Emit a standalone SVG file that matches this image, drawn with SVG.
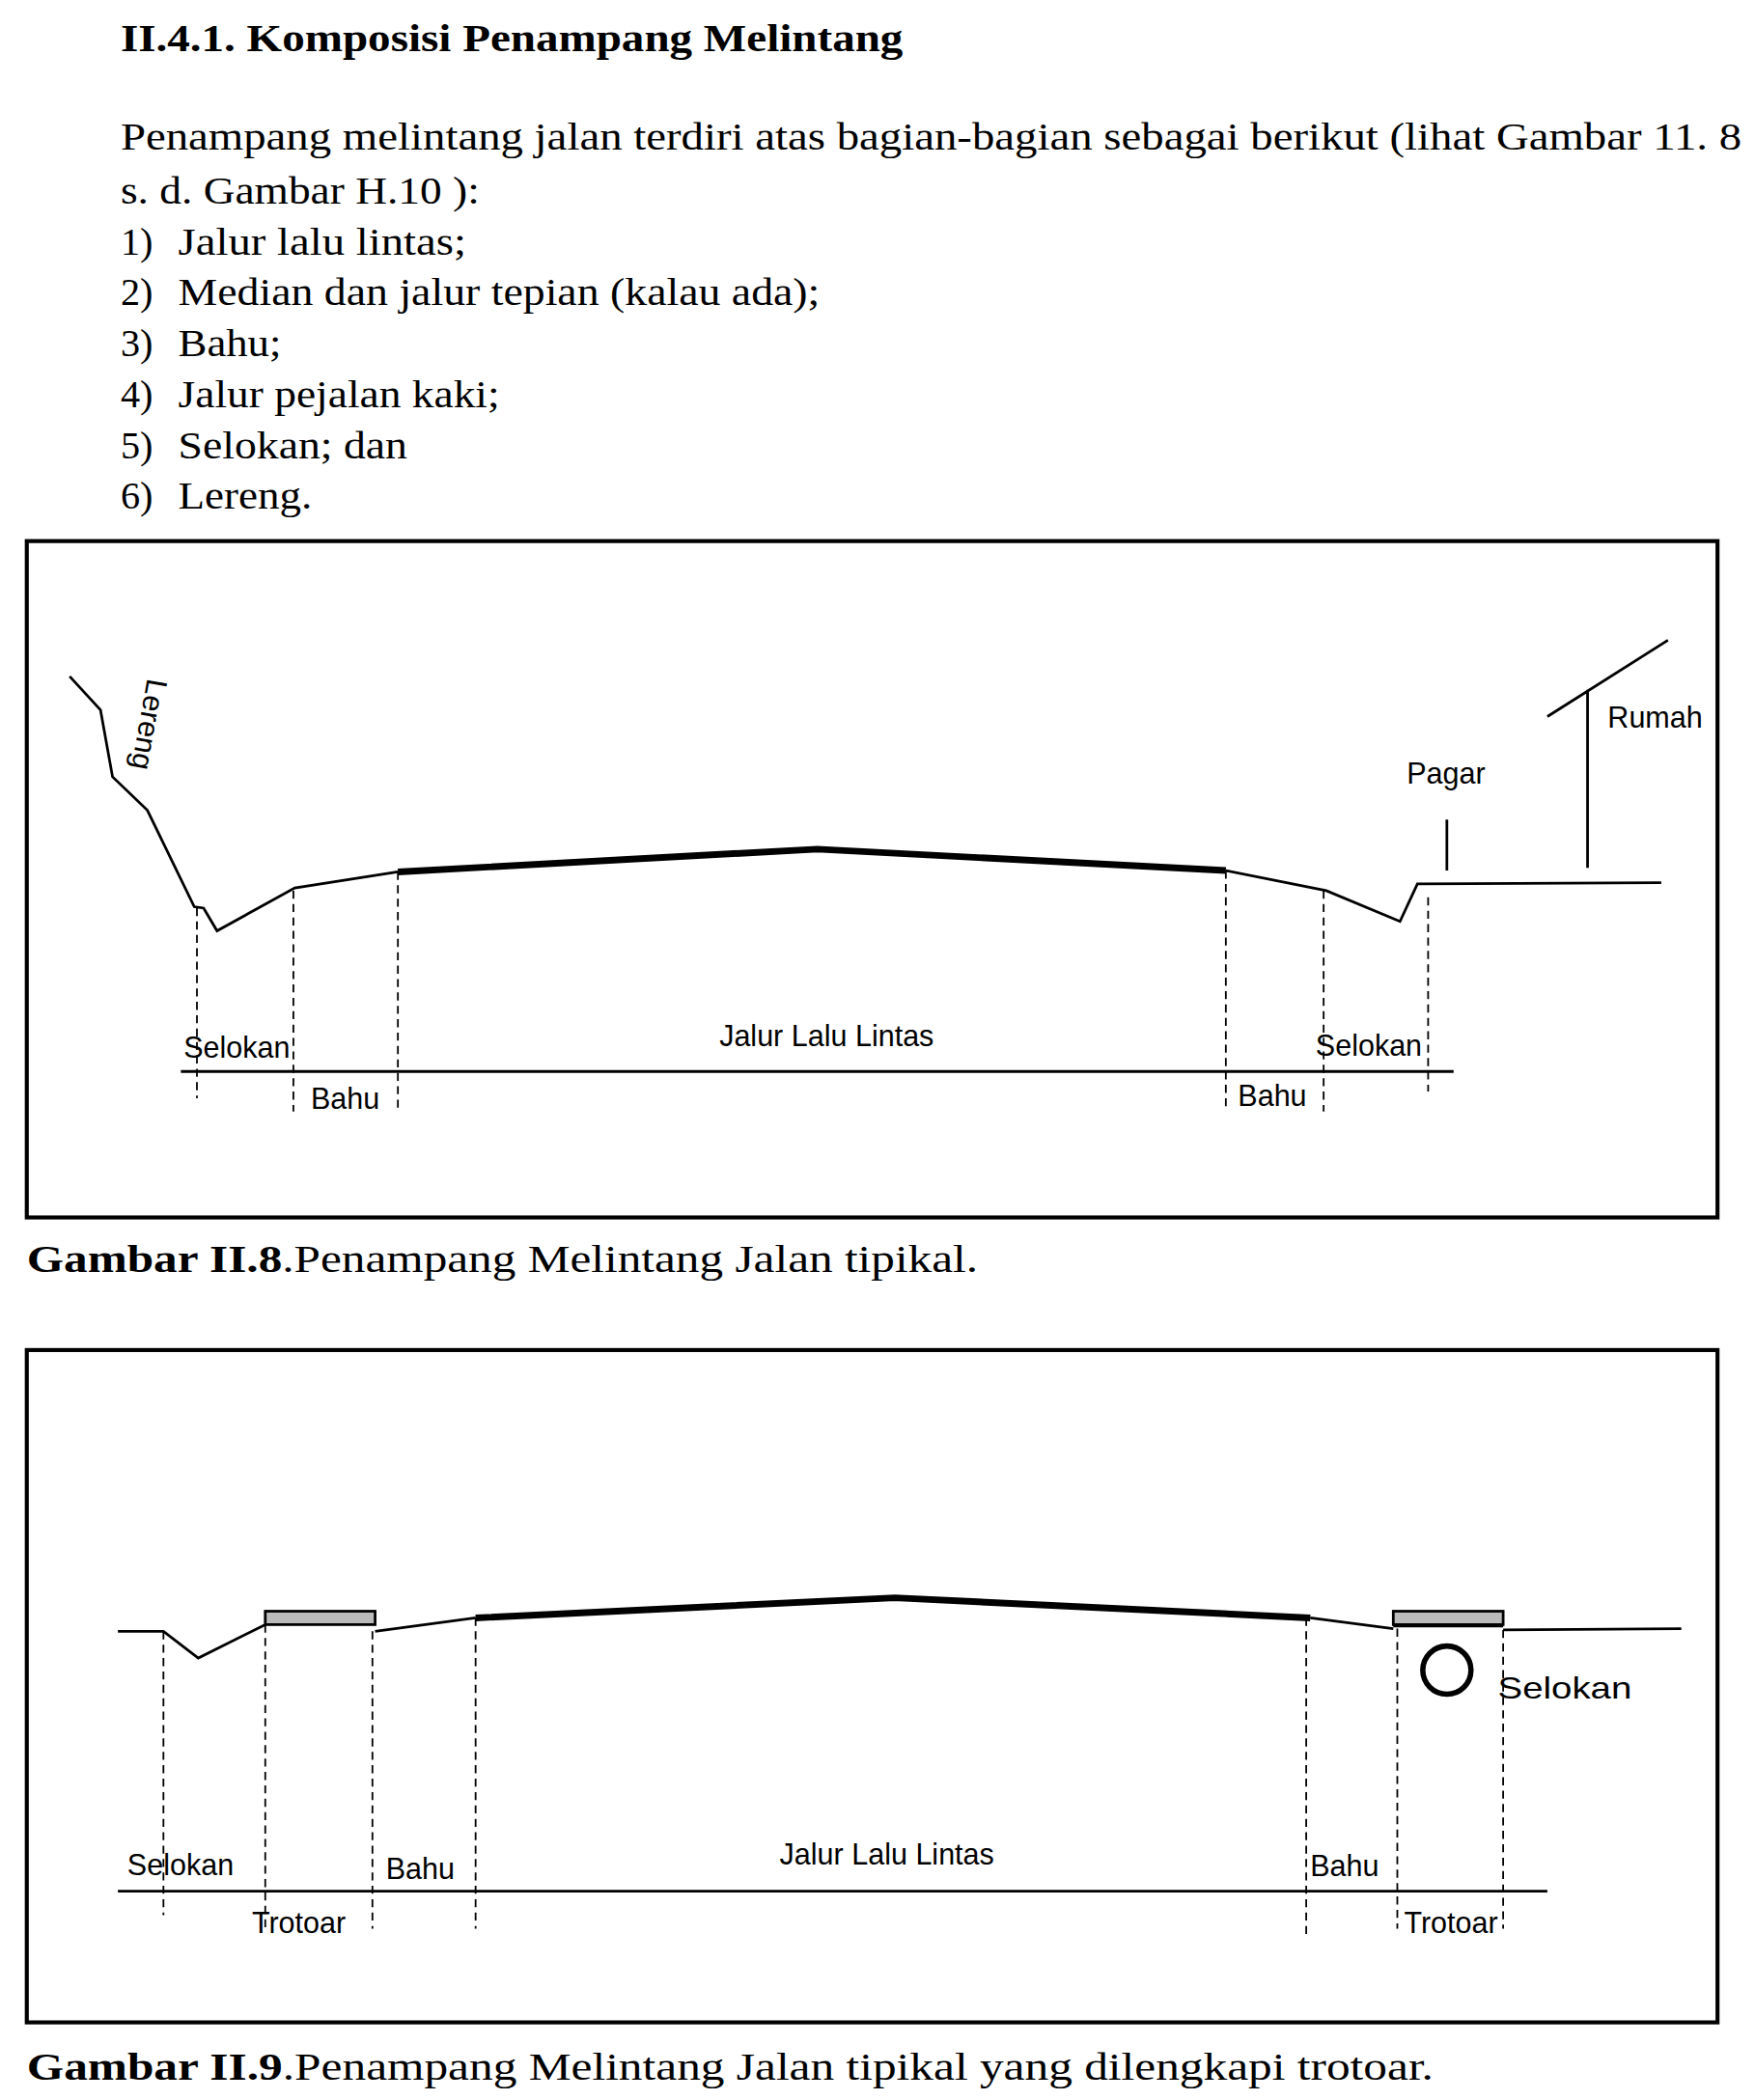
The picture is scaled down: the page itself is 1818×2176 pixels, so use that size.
<svg xmlns="http://www.w3.org/2000/svg" width="1818" height="2176" viewBox="0 0 1818 2176">
<style>
.t{font-family:"Liberation Serif","Times New Roman",serif;font-size:29px;fill:#000}
.b{font-weight:bold}
.s{font-family:"Liberation Sans",Arial,sans-serif;font-size:22px;fill:#000}
.g{fill:none;stroke:#000;stroke-width:2}
.r{fill:none;stroke:#000;stroke-width:5}
.d{fill:none;stroke:#000;stroke-width:1.3;stroke-dasharray:6,4}
.f{fill:none;stroke:#000;stroke-width:3}
</style>
<rect width="1818" height="2176" fill="#fff"/>
<g transform="scale(1.3878)">
<g id="text">
<text class="t b" x="90" y="38" textLength="584" lengthAdjust="spacingAndGlyphs">II.4.1.   Komposisi Penampang Melintang</text>
<text class="t" x="90" y="112" textLength="1210" lengthAdjust="spacingAndGlyphs">Penampang melintang jalan terdiri atas bagian-bagian sebagai berikut (lihat Gambar 11. 8</text>
<text class="t" x="90" y="152" textLength="268" lengthAdjust="spacingAndGlyphs">s. d. Gambar H.10 ):</text>
<text class="t" x="90" y="190">1)</text><text class="t" x="133" y="190" textLength="215" lengthAdjust="spacingAndGlyphs">Jalur lalu lintas;</text>
<text class="t" x="90" y="228">2)</text><text class="t" x="133" y="228" textLength="479" lengthAdjust="spacingAndGlyphs">Median dan jalur tepian (kalau ada);</text>
<text class="t" x="90" y="266">3)</text><text class="t" x="133" y="266" textLength="77" lengthAdjust="spacingAndGlyphs">Bahu;</text>
<text class="t" x="90" y="304">4)</text><text class="t" x="133" y="304" textLength="240" lengthAdjust="spacingAndGlyphs">Jalur pejalan kaki;</text>
<text class="t" x="90" y="342">5)</text><text class="t" x="133" y="342" textLength="171" lengthAdjust="spacingAndGlyphs">Selokan; dan</text>
<text class="t" x="90" y="380">6)</text><text class="t" x="133" y="380" textLength="100" lengthAdjust="spacingAndGlyphs">Lereng.</text>
</g>
<g id="fig1">
<rect class="f" x="20" y="404" width="1262" height="505"/>
<path class="g" d="M52,505 L75,530 L84,580 L110,605 L145,677 L152,678 L162,695 L220,663 L297,651"/>
<path class="r" d="M297,651 L610,634 L915,650"/>
<path class="g" d="M915,650 L990,665 L1045,688 L1058,660 L1240,659"/>
<path class="g" d="M1155,535 L1245,478 M1185,515 L1185,648 M1080,612 L1080,650"/>
<text class="s" x="0" y="0" transform="translate(110,506) rotate(100)">Lereng</text>
<text class="s" x="1200" y="543" font-size="19">Rumah</text>
<text class="s" x="1050" y="585" font-size="19">Pagar</text>
<path class="d" d="M147,678V820 M219,665V830 M297,651V830 M915,650V830 M988,665V830 M1066,670V815"/>
<path class="g" d="M135,800H1085"/>
<text class="s" x="137" y="790" font-size="23">Selokan</text>
<text class="s" x="617" y="781" font-size="23" text-anchor="middle">Jalur Lalu Lintas</text>
<text class="s" x="982" y="788" font-size="23">Selokan</text>
<text class="s" x="232" y="828" font-size="23">Bahu</text>
<text class="s" x="924" y="826" font-size="23">Bahu</text>
<text class="t" x="20" y="950" textLength="710" lengthAdjust="spacingAndGlyphs"><tspan class="b">Gambar II.8</tspan>.Penampang Melintang Jalan tipikal.</text>
</g>
<g id="fig2">
<rect class="f" x="20" y="1008" width="1262" height="502"/>
<path class="g" d="M88,1218 L122,1218 L148,1238 L198,1213"/>
<rect x="198" y="1203" width="82" height="10" fill="#bbb" stroke="#000" stroke-width="2"/>
<path class="g" d="M280,1218 L355,1208"/>
<path class="r" d="M355,1208 L668,1193 L978,1208"/>
<path class="g" d="M978,1208 L1040,1216"/>
<rect x="1040" y="1203" width="82" height="10" fill="#bbb" stroke="#000" stroke-width="2"/>
<path class="g" d="M1040,1214H1122 M1122,1217 L1255,1216"/>
<circle cx="1080" cy="1247" r="18" fill="none" stroke="#000" stroke-width="4"/>
<text class="s" x="1118" y="1268" font-size="27" textLength="100" lengthAdjust="spacingAndGlyphs">Selokan</text>
<path class="d" d="M122,1218V1430 M198,1213V1440 M278,1218V1440 M355,1208V1440 M975,1208V1445 M1043,1216V1440 M1122,1217V1440"/>
<path class="g" d="M88,1412H1155"/>
<text class="s" x="95" y="1400" font-size="25">Selokan</text>
<text class="s" x="288" y="1403" font-size="25">Bahu</text>
<text class="s" x="662" y="1392" font-size="25" text-anchor="middle">Jalur Lalu Lintas</text>
<text class="s" x="978" y="1401" font-size="25">Bahu</text>
<text class="s" x="188" y="1443" font-size="25">Trotoar</text>
<text class="s" x="1048" y="1443" font-size="25">Trotoar</text>
<text class="t" x="20" y="1553" textLength="1050" lengthAdjust="spacingAndGlyphs"><tspan class="b">Gambar II.9</tspan>.Penampang Melintang Jalan tipikal yang dilengkapi trotoar.</text>
</g>
</g>
</svg>
